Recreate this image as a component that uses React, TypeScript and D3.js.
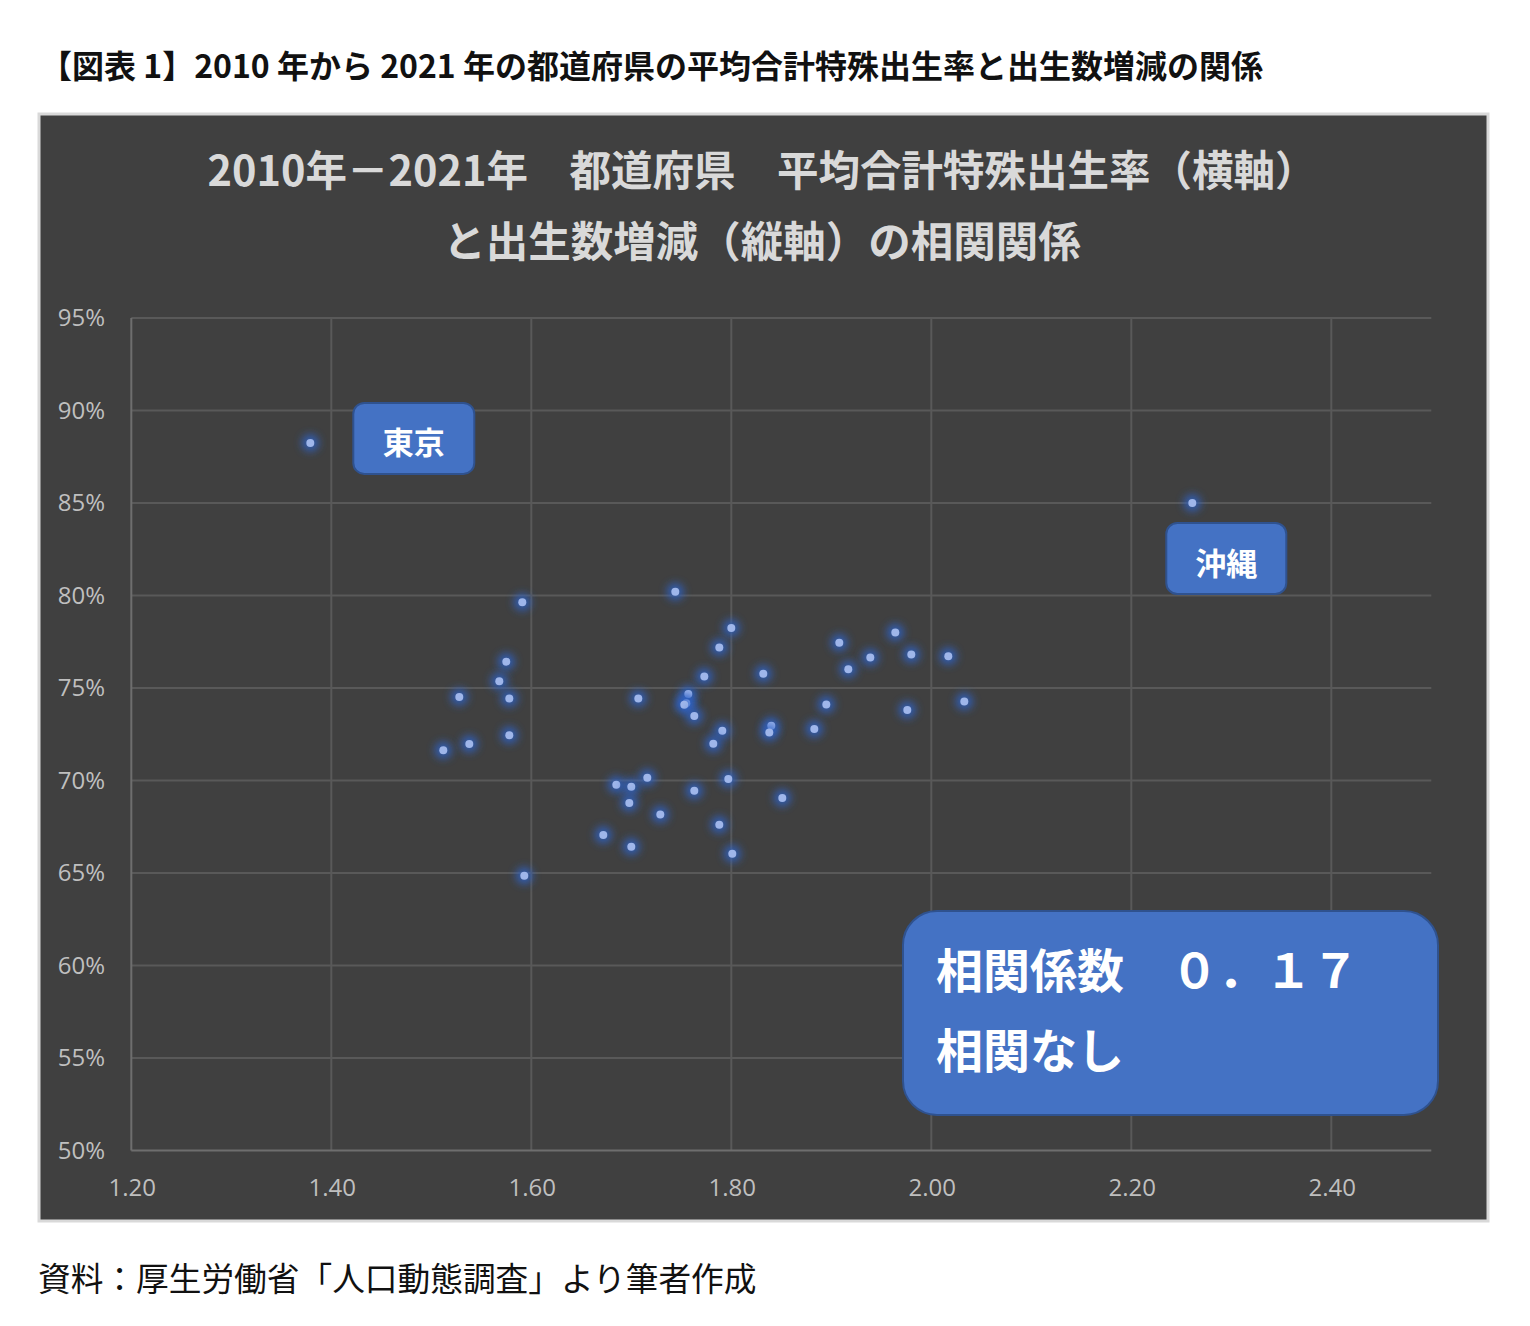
import React, { useEffect, useMemo } from 'react';
import * as d3 from 'd3';

// 都道府県: 2010-2021 平均合計特殊出生率 (x) と 出生数増減 (y, 2021/2010)
const prefTfr = [
  1.591, 1.575, 1.568, 1.528, 1.578, 1.707, 1.578, 1.538, 1.512, 1.685,
  1.700, 1.716, 1.698, 1.729, 1.672, 1.700, 1.593, 1.744, 1.800, 1.788,
  1.773, 1.832, 1.757, 1.755, 1.753, 1.763, 1.791, 1.782, 1.840, 1.838,
  1.797, 1.763, 1.851, 1.788, 1.801, 1.908, 1.964, 1.939, 1.980, 2.017,
  1.917, 1.895, 1.976, 2.033, 1.883, 1.379, 2.261,
];
const prefBirthRatio = [
  0.7964, 0.7642, 0.7537, 0.7451, 0.7443, 0.7443, 0.7245, 0.7197, 0.7164, 0.6977,
  0.6966, 0.7015, 0.6879, 0.6816, 0.6706, 0.6642, 0.6485, 0.802, 0.7824, 0.7719,
  0.7562, 0.7577, 0.7467, 0.7418, 0.7409, 0.7348, 0.7269, 0.7198, 0.7296, 0.7259,
  0.7008, 0.6944, 0.6905, 0.6761, 0.6604, 0.7744, 0.78, 0.7665, 0.7681, 0.7672,
  0.7602, 0.7411, 0.7381, 0.7427, 0.7278, 0.8825, 0.8500,
];
const calloutNames = ['東京', '沖縄'];
const calloutIndex = [45, 46];

const yTicks = [0.5, 0.55, 0.6, 0.65, 0.7, 0.75, 0.8, 0.85, 0.9, 0.95];
const xTicks = [1.2, 1.4, 1.6, 1.8, 2.0, 2.2, 2.4];

const pageTitle = '【図表 1】2010 年から 2021 年の都道府県の平均合計特殊出生率と出生数増減の関係';
const chartTitle = ['2010年－2021年　都道府県　平均合計特殊出生率（横軸）', 'と出生数増減（縦軸）の相関関係'];
const corrLines = ['相関係数　０．１７', '相関なし'];
const sourceNote = '資料：厚生労働省「人口動態調査」より筆者作成';

const W = 1530;
const H = 1326;
const cjk = '"Noto Sans CJK JP", "Noto Sans", sans-serif';
const latin = '"Open Sans", "Noto Sans", sans-serif';

const App: React.FC = () => {
  useEffect(() => {
    document.body.style.margin = '0';
  }, []);

  const x = useMemo(() => d3.scaleLinear().domain([1.2, 2.5]).range([131.3, 1431.3]), []);
  const y = useMemo(() => d3.scaleLinear().domain([0.5, 0.95]).range([1150.5, 318]), []);
  const fmtY = d3.format('.0%');
  const fmtX = d3.format('.2f');

  // callout box offsets relative to their point
  const boxOffsets = [
    { dx: 43, dy: -40, w: 121, h: 71 },
    { dx: -26, dy: 20, w: 120, h: 71 },
  ];

  return (
    <svg width={W} height={H} style={{ display: 'block', background: '#fff' }}>
      <defs>
        <filter id="glow" x="-100%" y="-100%" width="300%" height="300%">
          <feGaussianBlur stdDeviation="4" />
        </filter>
      </defs>

      <text x={40} y={78} fontFamily={cjk} fontWeight={700} fontSize={32} fill="#111">
        {pageTitle}
      </text>

      {/* chart frame */}
      <rect x={39} y={114} width={1449} height={1107} fill="#404040" stroke="#d9d9d9" strokeWidth={3} />

      {chartTitle.map((t, i) => (
        <text
          key={i}
          x={762}
          y={186 + i * 71}
          textAnchor="middle"
          fontFamily={cjk}
          fontWeight={700}
          fontSize={i === 0 ? 41.5 : 42.5}
          fill="#d9d9d9"
        >
          {t}
        </text>
      ))}

      {/* gridlines */}
      {yTicks.slice(1).map((t) => (
        <line key={`gy${t}`} x1={x(1.2)} x2={x(2.5)} y1={y(t)} y2={y(t)} stroke="#595959" strokeWidth={2} />
      ))}
      {xTicks.slice(1).map((t) => (
        <line key={`gx${t}`} x1={x(t)} x2={x(t)} y1={y(0.95)} y2={y(0.5)} stroke="#595959" strokeWidth={2} />
      ))}
      {/* axes */}
      <line x1={x(1.2)} x2={x(1.2)} y1={y(0.95)} y2={y(0.5)} stroke="#6e6e6e" strokeWidth={2} />
      <line x1={x(1.2)} x2={x(2.5)} y1={y(0.5)} y2={y(0.5)} stroke="#6e6e6e" strokeWidth={2} />

      {yTicks.map((t) => (
        <text key={`ly${t}`} x={105} y={y(t) + 8} textAnchor="end" fontFamily={latin} fontSize={24} fill="#bfbfbf">
          {fmtY(t)}
        </text>
      ))}
      {xTicks.map((t) => (
        <text key={`lx${t}`} x={x(t) + 1} y={1196} textAnchor="middle" fontFamily={latin} fontSize={24} fill="#bfbfbf">
          {fmtX(t)}
        </text>
      ))}

      {/* points */}
      {prefTfr.map((v, i) => (
        <g key={`p${i}`}>
          <circle cx={x(v)} cy={y(prefBirthRatio[i])} r={8.5} fill="#2f63c9" opacity={0.85} filter="url(#glow)" />
          <circle cx={x(v)} cy={y(prefBirthRatio[i])} r={4} fill="#9fb6ea" />
        </g>
      ))}

      {/* callouts */}
      {calloutNames.map((name, k) => {
        const i = calloutIndex[k];
        const o = boxOffsets[k];
        const bx = x(prefTfr[i]) + o.dx;
        const by = y(prefBirthRatio[i]) + o.dy;
        return (
          <g key={name}>
            <rect x={bx} y={by} width={o.w} height={o.h} rx={11} fill="#4472c4" stroke="#2f528f" strokeWidth={2} />
            <text
              x={bx + o.w / 2}
              y={by + o.h / 2 + 16}
              textAnchor="middle"
              fontFamily={cjk}
              fontWeight={700}
              fontSize={31}
              fill="#fff"
            >
              {name}
            </text>
          </g>
        );
      })}

      {/* correlation box */}
      <rect x={903} y={911} width={535} height={204} rx={34} fill="#4472c4" stroke="#2f528f" strokeWidth={2} />
      {corrLines.map((t, i) => (
        <text key={t} x={936} y={988 + i * 80} fontFamily={cjk} fontWeight={700} fontSize={47} fill="#fff">
          {t}
        </text>
      ))}

      <text x={38} y={1291} fontFamily={cjk} fontWeight={400} fontSize={32.7} fill="#111">
        {sourceNote}
      </text>
    </svg>
  );
};

export default App;
